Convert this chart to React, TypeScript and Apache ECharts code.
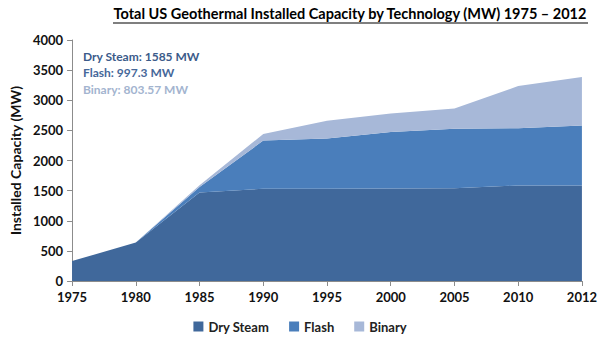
import React, { useEffect, useRef } from "react";
import * as echarts from "echarts";

const years = ["1975", "1980", "1985", "1990", "1995", "2000", "2005", "2010", "2012"];
const drySteam = [330, 640, 1470, 1530, 1530, 1535, 1540, 1585, 1585];
const flash = [0, 0, 90, 800, 835, 940, 985, 950, 997.3];
const binary = [0, 0, 30, 110, 295, 305, 340, 700, 803.57];
const yTicks = [0, 500, 1000, 1500, 2000, 2500, 3000, 3500, 4000];

const FONT = "Lato, 'Open Sans', sans-serif";
const colors = { dry: "#40689B", flash: "#4A7EBB", binary: "#A7B8D8" };

export default function App() {
  const ref = useRef<HTMLDivElement>(null);
  useEffect(() => {
    if (!ref.current) return;
    const chart = echarts.init(ref.current, undefined, { renderer: "svg" });
    const area = (name: string, data: number[], color: string) => ({
      name,
      type: "line",
      stack: "total",
      data,
      symbol: "none",
      lineStyle: { width: 0 },
      itemStyle: { color },
      areaStyle: { color, opacity: 1 },
    });
    chart.setOption({
      animation: false,
      textStyle: { fontFamily: FONT },
      grid: { left: 70, right: 18, top: 40, bottom: 65 },
      graphic: [
        {
          type: "text",
          x: 350,
          y: 6,
          style: {
            text: "Total US Geothermal Installed Capacity by Technology (MW) 1975 – 2012",
            font: `bold 14.5px ${FONT}`,
            fill: "#000",
            align: "center",
          },
        },
        {
          type: "line",
          shape: { x1: 113, y1: 23, x2: 588, y2: 23 },
          style: { stroke: "#000", lineWidth: 1.2 },
        },
        {
          type: "text",
          x: 83,
          y: 50,
          style: { text: "Dry Steam: 1585 MW", font: `bold 12px ${FONT}`, fill: "#3B5B8A" },
        },
        {
          type: "text",
          x: 83,
          y: 66,
          style: { text: "Flash: 997.3 MW", font: `bold 12px ${FONT}`, fill: "#46689A" },
        },
        {
          type: "text",
          x: 83,
          y: 83,
          style: { text: "Binary: 803.57 MW", font: `bold 12px ${FONT}`, fill: "#A3B4CF" },
        },
      ],
      legend: {
        bottom: 8,
        left: "center",
        itemWidth: 10,
        itemHeight: 10,
        itemGap: 20,
        icon: "rect",
        textStyle: { fontFamily: FONT, fontWeight: "bold", fontSize: 13, color: "#222" },
        data: ["Dry Steam", "Flash", "Binary"],
      },
      xAxis: {
        type: "category",
        data: years,
        boundaryGap: false,
        axisLine: { lineStyle: { color: "#8c8c8c" } },
        axisTick: { show: true, lineStyle: { color: "#8c8c8c" }, length: 5 },
        axisLabel: { color: "#111", fontWeight: "bold", fontSize: 13, margin: 9, fontFamily: FONT },
      },
      yAxis: {
        type: "value",
        min: yTicks[0],
        max: yTicks[yTicks.length - 1],
        interval: 500,
        name: "Installed Capacity (MW)",
        nameLocation: "middle",
        nameGap: 50,
        nameTextStyle: { fontWeight: "bold", fontSize: 14, color: "#111", fontFamily: FONT },
        splitLine: { show: false },
        axisLine: { show: true, lineStyle: { color: "#8c8c8c" } },
        axisTick: { show: true, lineStyle: { color: "#8c8c8c" }, length: 5 },
        axisLabel: {
          color: "#111",
          fontWeight: "bold",
          fontSize: 13,
          margin: 9,
          fontFamily: FONT,
          formatter: (v: number) => String(v),
        },
      },
      series: [
        area("Dry Steam", drySteam, colors.dry),
        area("Flash", flash, colors.flash),
        area("Binary", binary, colors.binary),
      ],
    });
    return () => chart.dispose();
  }, []);
  return (
    <div
      ref={ref}
      style={{ position: "absolute", left: 0, top: 0, width: 600, height: 346 }}
    />
  );
}
